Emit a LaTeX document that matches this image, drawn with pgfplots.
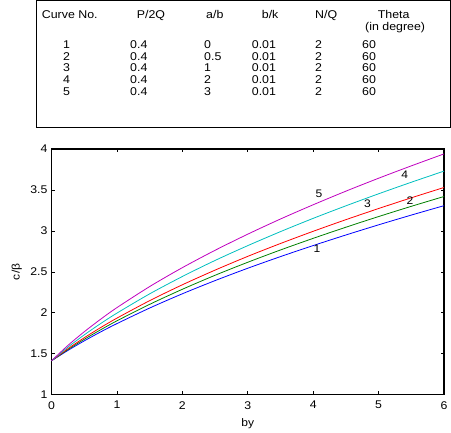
\documentclass[border=0pt]{standalone}
\usepackage{fontspec}
\setmainfont{Liberation Sans}[FakeStretch=1.1]
\usepackage{pgfplots}
\pgfplotsset{compat=1.18}
\definecolor{mblue}{rgb}{0,0,1}
\definecolor{mgreen}{rgb}{0,0.5,0}
\definecolor{mred}{rgb}{1,0,0}
\definecolor{mcyan}{rgb}{0,0.75,0.75}
\definecolor{mmag}{rgb}{0.75,0,0.75}
\begin{document}
\begin{tikzpicture}[x=1bp,y=1bp]
\begin{axis}[
  at={(0,0)}, anchor=south west,
  scale only axis, width=392.5bp, height=245.7bp,
  xmin=0, xmax=6, ymin=1, ymax=4,
  xtick={0,1,2,3,4,5,6}, ytick={1,1.5,2,2.5,3,3.5,4},
  tick align=inside, major tick length=3.5bp,
  xtick pos=both, ytick pos=both,
  axis line style={line width=1.3bp},
  tick style={line width=0.6bp, black},
  /pgf/number format/assume math mode=true,
  ticklabel style={font=\fontsize{11.2}{12}\selectfont},
  xticklabel style={yshift=-3bp},
  yticklabel style={xshift=-0.5bp},
  label style={font=\fontsize{11}{12}\selectfont},
  xlabel={by}, ylabel={c/β},
  xlabel style={at={([yshift=-29bp]axis description cs:0.5,0)}, anchor=center},
  ylabel style={at={([xshift=-34.8bp]axis description cs:0,0.5)}, anchor=center},
  every axis plot/.append style={line width=0.8bp, smooth},
  clip=true,
]
\addplot[mblue] coordinates {(0,1.414)(0.25,1.540)(0.5,1.657)(0.75,1.766)(1,1.868)(1.5,2.058)(2,2.232)(2.5,2.393)(3,2.544)(3.5,2.686)(4,2.821)(4.5,2.950)(5,3.074)(5.5,3.193)(6,3.308)};
\addplot[mgreen] coordinates {(0,1.414)(0.25,1.550)(0.5,1.676)(0.75,1.792)(1,1.902)(1.5,2.103)(2,2.287)(2.5,2.458)(3,2.617)(3.5,2.767)(4,2.909)(4.5,3.045)(5,3.175)(5.5,3.300)(6,3.420)};
\addplot[mred] coordinates {(0,1.414)(0.25,1.561)(0.5,1.695)(0.75,1.819)(1,1.935)(1.5,2.148)(2,2.342)(2.5,2.521)(3,2.689)(3.5,2.846)(4,2.995)(4.5,3.137)(5,3.273)(5.5,3.404)(6,3.530)};
\addplot[mcyan] coordinates {(0,1.414)(0.25,1.580)(0.5,1.730)(0.75,1.868)(1,1.996)(1.5,2.231)(2,2.443)(2.5,2.639)(3,2.820)(3.5,2.991)(4,3.153)(4.5,3.306)(5,3.453)(5.5,3.594)(6,3.730)};
\addplot[mmag] coordinates {(0,1.414)(0.25,1.601)(0.5,1.768)(0.75,1.921)(1,2.063)(1.5,2.320)(2,2.551)(2.5,2.763)(3,2.960)(3.5,3.145)(4,3.319)(4.5,3.485)(5,3.643)(5.5,3.794)(6,3.940)};
\begin{scope}[every node/.style={font=\fontsize{11}{12}\selectfont, inner sep=0pt}]
\node at (axis cs:4.09,3.45) {5};
\node at (axis cs:5.40,3.68) {4};
\node at (axis cs:4.83,3.33) {3};
\node at (axis cs:5.48,3.37) {2};
\node at (axis cs:4.06,2.78) {1};
\end{scope}
\end{axis}
\begin{scope}[shift={(-51.5,-38.3)}]
\path (0,0) rectangle (451,433);
\draw[line width=0.8bp] (36,306) rectangle (450.6,432.6);
\begin{scope}[every node/.style={font=\fontsize{11.3}{13}\selectfont, inner sep=0pt, anchor=base west}]
\node at (41.7,433-19) {Curve No.};
\node at (136.7,433-19) {P/2Q};
\node at (206,433-19) {a/b};
\node at (261.7,433-19) {b/k};
\node at (315,433-19) {N/Q};
\node at (377.7,433-19) {Theta};
\node at (365,433-31) {(in degree)};
\foreach \r/\n/\ab in {0/1/0,1/2/0.5,2/3/1,3/4/2,4/5/3}{
  \pgfmathsetmacro{\yy}{433-48.5-11.75*\r}
  \node at (63,\yy) {\n};
  \node at (130,\yy) {0.4};
  \node at (204,\yy) {\ab};
  \node at (251.7,\yy) {0.01};
  \node at (315,\yy) {2};
  \node at (362,\yy) {60};
}
\end{scope}
\end{scope}
\end{tikzpicture}
\end{document}
